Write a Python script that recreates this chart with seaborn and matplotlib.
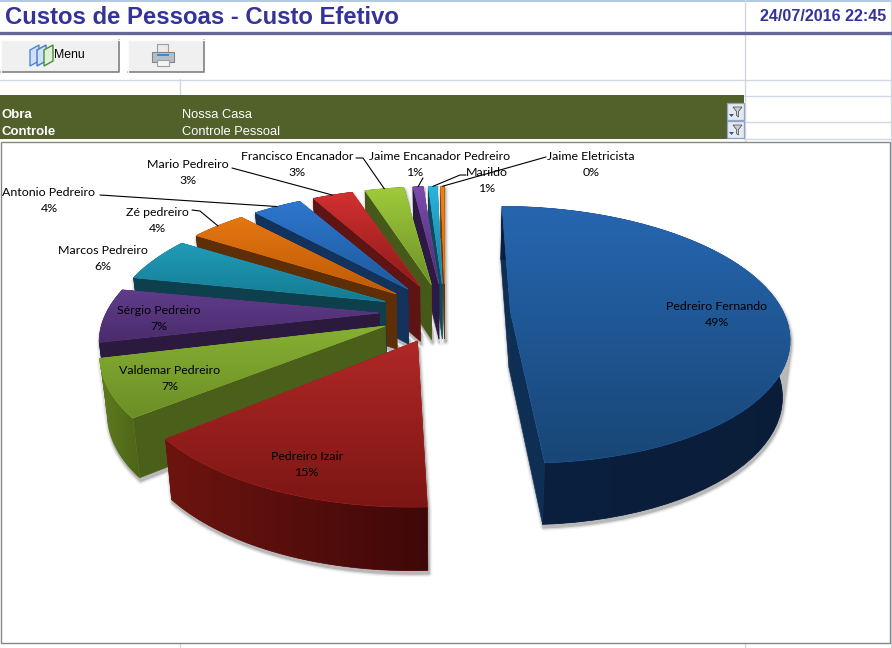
import matplotlib
matplotlib.use("Agg")
import matplotlib.pyplot as plt
from matplotlib.patches import Polygon, Rectangle
import numpy as np
import seaborn as sns

names = ["Pedreiro Fernando", "Pedreiro Izair", "Valdemar Pedreiro", "Sérgio Pedreiro",
         "Marcos Pedreiro", "Zé pedreiro", "Antonio Pedreiro", "Mario Pedreiro",
         "Francisco Encanador", "Jaime Encanador Pedreiro", "Marildo", "Jaime Eletricista"]
shares = [49.1, 14.9, 7.2, 6.9, 5.8, 4.2, 3.7, 3.1, 3.0, 0.9, 0.8, 0.3]

top_light = ["#2666b0", "#b02826", "#86b032", "#603c8c", "#209cb9", "#e67610",
             "#2e76ce", "#d23030", "#9fcb3a", "#7d4cac", "#2ab4dc", "#f08214"]
top_dark = ["#184676", "#7c1614", "#6c8e26", "#4a2c6c", "#167a92", "#bd5a08",
            "#1e5a9c", "#8c1c1a", "#6e9028", "#4c2c70", "#1a7a98", "#e06c0c"]
side_face = ["#0f2e54", "#5a1010", "#4a5f1a", "#2c1a3e", "#0e3f4c", "#5e2e06",
             "#13325c", "#5f1414", "#47591a", "#2c1a44", "#0e4a5c", "#6a3404"]
rim_start = ["#0b2040", "#3f0808", "#4c6418", "#2c1a3e", "#0e3f4c", "#5e2e06",
             "#13325c", "#5f1414", "#47591a", "#2c1a44", "#0e4a5c", "#6a3404"]
rim_end = ["#0a1d38", "#6d1410", "#5f7c1e", "#2c1a3e", "#0e3f4c", "#5e2e06",
           "#13325c", "#5f1414", "#47591a", "#2c1a44", "#0e4a5c", "#6a3404"]

# pie projection, fitted by eye on the screenshot
CX, CY = 445, 312.5
RX, RY = 273, 124.5
PERSP = 0.18
EXPLODE = 0.24
DEPTH = 56
SHRINK = 0.978
PAD = 0.4

GRID = "#d0d7e5"
TITLE = "#333399"
BAND = "#526029"
FONT = ["Liberation Sans", "DejaVu Sans"]
LABEL_FONT = ["Lato", "DejaVu Sans"]


def project(x, y):
    w = 1 + PERSP * y
    return CX + RX * x / w, CY - RY * y / w


def lower(px, py):
    w = 1 + PERSP * (CY - py) / RY * 0.8
    return CX + (px - CX) * SHRINK, py + DEPTH / np.sqrt(np.clip(w, 0.5, 1.5))


def convex_hull(points):
    pts = sorted(set(map(tuple, points)))
    def half(seq):
        out = []
        for p in seq:
            while len(out) > 1 and (out[-1][0] - out[-2][0]) * (p[1] - out[-2][1]) - (out[-1][1] - out[-2][1]) * (p[0] - out[-2][0]) <= 0:
                out.pop()
            out.append(p)
        return out[:-1]
    return half(pts) + half(pts[::-1])


def slice_geometry(start, end):
    mid = np.radians((start + end) / 2)
    ex, ey = EXPLODE * np.sin(mid), EXPLODE * np.cos(mid)
    pad = min(PAD, 0.1 * (end - start))
    th = np.radians(np.linspace(start + pad, end - pad, 60))
    arc_x, arc_y = project(ex + np.sin(th), ey + np.cos(th))
    apex = project(ex, ey)
    anchor = project(ex + np.sin(mid), ey + np.cos(mid))
    top = np.column_stack([np.r_[apex[0], arc_x], np.r_[apex[1], arc_y]])
    bot = np.column_stack(lower(top[:, 0], top[:, 1]))
    return top, bot, anchor


def fill_gradient(ax, pts, colors, z, vertical=True):
    clip = Polygon(pts, closed=True, fc=colors[0], ec=colors[0], lw=0.5, zorder=z)
    ax.add_patch(clip)
    ramp = np.linspace(0, 1, 128)
    ramp = ramp[:, None] if vertical else ramp[None, :]
    x0, x1, y0, y1 = pts[:, 0].min(), pts[:, 0].max(), pts[:, 1].min(), pts[:, 1].max()
    im = ax.imshow(ramp, extent=(x0, x1, y1, y0), aspect="auto", interpolation="bilinear",
                   cmap=sns.blend_palette(colors, as_cmap=True), zorder=z + 0.001)
    im.set_clip_path(clip)


def draw_slice(ax, i, top, bot, z):
    arc_top, arc_bot = top[1:], bot[1:]
    rim = np.vstack([arc_top, arc_bot[::-1]])
    # rim colour runs along x, flip it when the slice runs right to left
    ends = [rim_start[i], rim_end[i]]
    if arc_top[0, 0] > arc_top[-1, 0]:
        ends = ends[::-1]

    faces = [(np.vstack([top[0], top[1], bot[1], bot[0]]), None),
             (np.vstack([top[0], top[-1], bot[-1], bot[0]]), None),
             (rim, ends)]
    faces.sort(key=lambda f: f[0][:, 1].mean())
    for k, (pts, grad) in enumerate(faces):
        if grad is None:
            ax.add_patch(Polygon(pts, closed=True, fc=side_face[i], ec=side_face[i], lw=0.4, zorder=z + k * 0.1))
        else:
            fill_gradient(ax, pts, grad, z + k * 0.1, vertical=False)
    fill_gradient(ax, top, [top_light[i], top_dark[i]], z + 0.5)


def draw_shadow(ax, top, bot, z):
    hull = np.array(convex_hull(np.vstack([top, bot]))) + [1, 3]
    for lw, col in [(5, "#f2f2f2"), (3.2, "#dcdcdc"), (1.6, "#b8b8b8")]:
        ax.add_patch(Polygon(hull, closed=True, fc=col, ec=col, lw=lw, joinstyle="round", zorder=z))


def draw_button(ax, x0, y0, x1, y1):
    ax.add_patch(Rectangle((x0, y0), x1 - x0, y1 - y0, fc="#f0f0f0", ec="none", zorder=5))
    ax.plot([x0, x1, x1], [y1, y1, y0], color="#808080", lw=1.2, zorder=6)
    ax.plot([x0, x0, x1], [y1, y0, y0], color="#fbfbfb", lw=1, zorder=6)


def draw_filter(ax, x0, y0):
    ax.add_patch(Rectangle((x0, y0), 17, 17, fc="#e4e9f2", ec="#8ea4c0", lw=0.9, zorder=5))
    ax.add_patch(Polygon([(x0 + 6, y0 + 4), (x0 + 15, y0 + 4), (x0 + 11.5, y0 + 8.5), (x0 + 11.5, y0 + 14),
                          (x0 + 9.5, y0 + 12.5), (x0 + 9.5, y0 + 8.5)], fc="#c9cdd4", ec="#444444", lw=0.5, zorder=6))
    ax.add_patch(Polygon([(x0 + 2, y0 + 11), (x0 + 7, y0 + 11), (x0 + 4.5, y0 + 14)], fc="#3a4f9a", ec="none", zorder=6))


sns.set_theme(style="white")
fig = plt.figure(figsize=(8.92, 6.48), dpi=100)
ax = fig.add_axes([0, 0, 1, 1])
ax.set_axis_off()
ax.set_autoscale_on(False)
ax.set_xlim(0, 892)
ax.set_ylim(648, 0)

# spreadsheet grid
ax.plot([0, 892], [0.5, 0.5], color="#a6c0dc", lw=1.2, zorder=2)
ax.plot([0, 892], [79.5, 79.5], color=GRID, lw=1, zorder=2)
for y in [95.5, 121.5, 138.5]:
    ax.plot([744, 892], [y, y], color=GRID, lw=1, zorder=2)
ax.plot([179.5, 179.5], [79, 95], color=GRID, lw=1, zorder=2)
ax.plot([744.5, 744.5], [0, 141], color=GRID, lw=1, zorder=2)
ax.plot([890.5, 890.5], [0, 648], color=GRID, lw=1, zorder=2)
ax.plot([179.5, 179.5], [643, 648], color=GRID, lw=1, zorder=2)
ax.plot([744.5, 744.5], [643, 648], color=GRID, lw=1, zorder=2)
for y in np.arange(155, 640, 17):
    ax.plot([889, 892], [y, y], color=GRID, lw=0.8, zorder=2)

# header
ax.plot([0, 892], [32.5, 32.5], color="#666699", lw=2.4, zorder=3)
ax.text(5, 17.5, "Custos de Pessoas - Custo Efetivo", family=FONT, weight="bold", color=TITLE,
        fontsize=17.2, va="center", ha="left")
ax.text(886, 16.5, "24/07/2016 22:45", family=FONT, weight="bold", color=TITLE,
        fontsize=11.6, va="center", ha="right")

# buttons
draw_button(ax, 1, 39.5, 118.5, 72)
draw_button(ax, 127.5, 39.5, 203.5, 72)
for dx, fc, ec in [(0, "#cfe0f8", "#4f86d8"), (7, "#cfe0f8", "#4278cc"), (14, "#dff0d6", "#3f8f3c")]:
    ax.add_patch(Polygon([(30 + dx, 50), (39 + dx, 45), (39 + dx, 61), (30 + dx, 66)],
                         fc=fc, ec=ec, lw=1, zorder=7))
ax.text(54, 55, "Menu", family=FONT, color="black", fontsize=8.8, va="center", ha="left", zorder=8)
ax.add_patch(Rectangle((157, 44), 11, 9, fc="#e8eaee", ec="#9aa0a8", lw=0.8, zorder=7))
ax.add_patch(Rectangle((152, 52), 22, 10, fc="#b8bec6", ec="#7d848c", lw=0.8, zorder=7))
ax.add_patch(Rectangle((157, 54), 12, 2.4, fc="#2c8fe0", ec="none", zorder=8))
ax.add_patch(Rectangle((157, 60), 12, 6, fc="#f4f4f4", ec="#9aa0a8", lw=0.8, zorder=8))

# filter band
ax.add_patch(Rectangle((0, 95), 744, 44, fc=BAND, ec="none", zorder=3))
ax.text(2, 115, "Obra", family=FONT, weight="bold", color="white", fontsize=9.5, va="center", zorder=4)
ax.text(2, 132, "Controle", family=FONT, weight="bold", color="white", fontsize=9.5, va="center", zorder=4)
ax.text(182, 115, "Nossa Casa", family=FONT, color="white", fontsize=9.3, va="center", zorder=4)
ax.text(182, 132, "Controle Pessoal", family=FONT, color="white", fontsize=9.3, va="center", zorder=4)
draw_filter(ax, 727, 103)
draw_filter(ax, 727, 121)

# chart frame
ax.add_patch(Rectangle((0.5, 141.5), 889, 501.5, fc="white", ec="#868686", lw=1, zorder=3))

# pie slices, back ones first
edges = np.r_[0, np.cumsum(shares)] / np.sum(shares) * 360
geoms = [slice_geometry(edges[i], edges[i + 1]) for i in range(len(shares))]
for top, bot, _ in geoms:
    draw_shadow(ax, top, bot, 4)
order = sorted(range(len(shares)), key=lambda i: geoms[i][0][0, 1])
for z, i in enumerate(order):
    draw_slice(ax, i, geoms[i][0], geoms[i][1], 5 + z)

# data labels, name and percent are placed separately like in the sheet
name_pos = [(717, 306), (307, 456), (170, 371), (159, 310), (103, 250), (157, 212),
            (49, 192), (188, 165), (297, 156), (440, 156), (487, 172), (591, 156)]
pct_pos = [(717, 322), (307, 472), (170, 387), (159, 326), (103, 266), (157, 228),
           (49, 208), (188, 181), (297, 172), (415, 172), (487, 188), (591, 172)]
leader_start = [None, None, None, None, None, [(192, 210), (200, 211)], [(100, 195)],
                [(232, 168)], [(356, 158), (363, 158)], [(423, 178)],
                [(466, 175), (460, 175)], [(546, 157)]]

for i in range(len(shares)):
    ax.text(*name_pos[i], names[i], family=LABEL_FONT, fontsize=8.9, color="black",
            ha="center", va="center", zorder=30)
    ax.text(*pct_pos[i], f"{shares[i]:.0f}%", family=LABEL_FONT, fontsize=8.9, color="black",
            ha="center", va="center", zorder=30)
    if leader_start[i]:
        pts = np.array(leader_start[i] + [geoms[i][2]])
        ax.plot(pts[:, 0], pts[:, 1], color="black", lw=0.8, zorder=29)

fig.savefig("out.png", dpi=100)
